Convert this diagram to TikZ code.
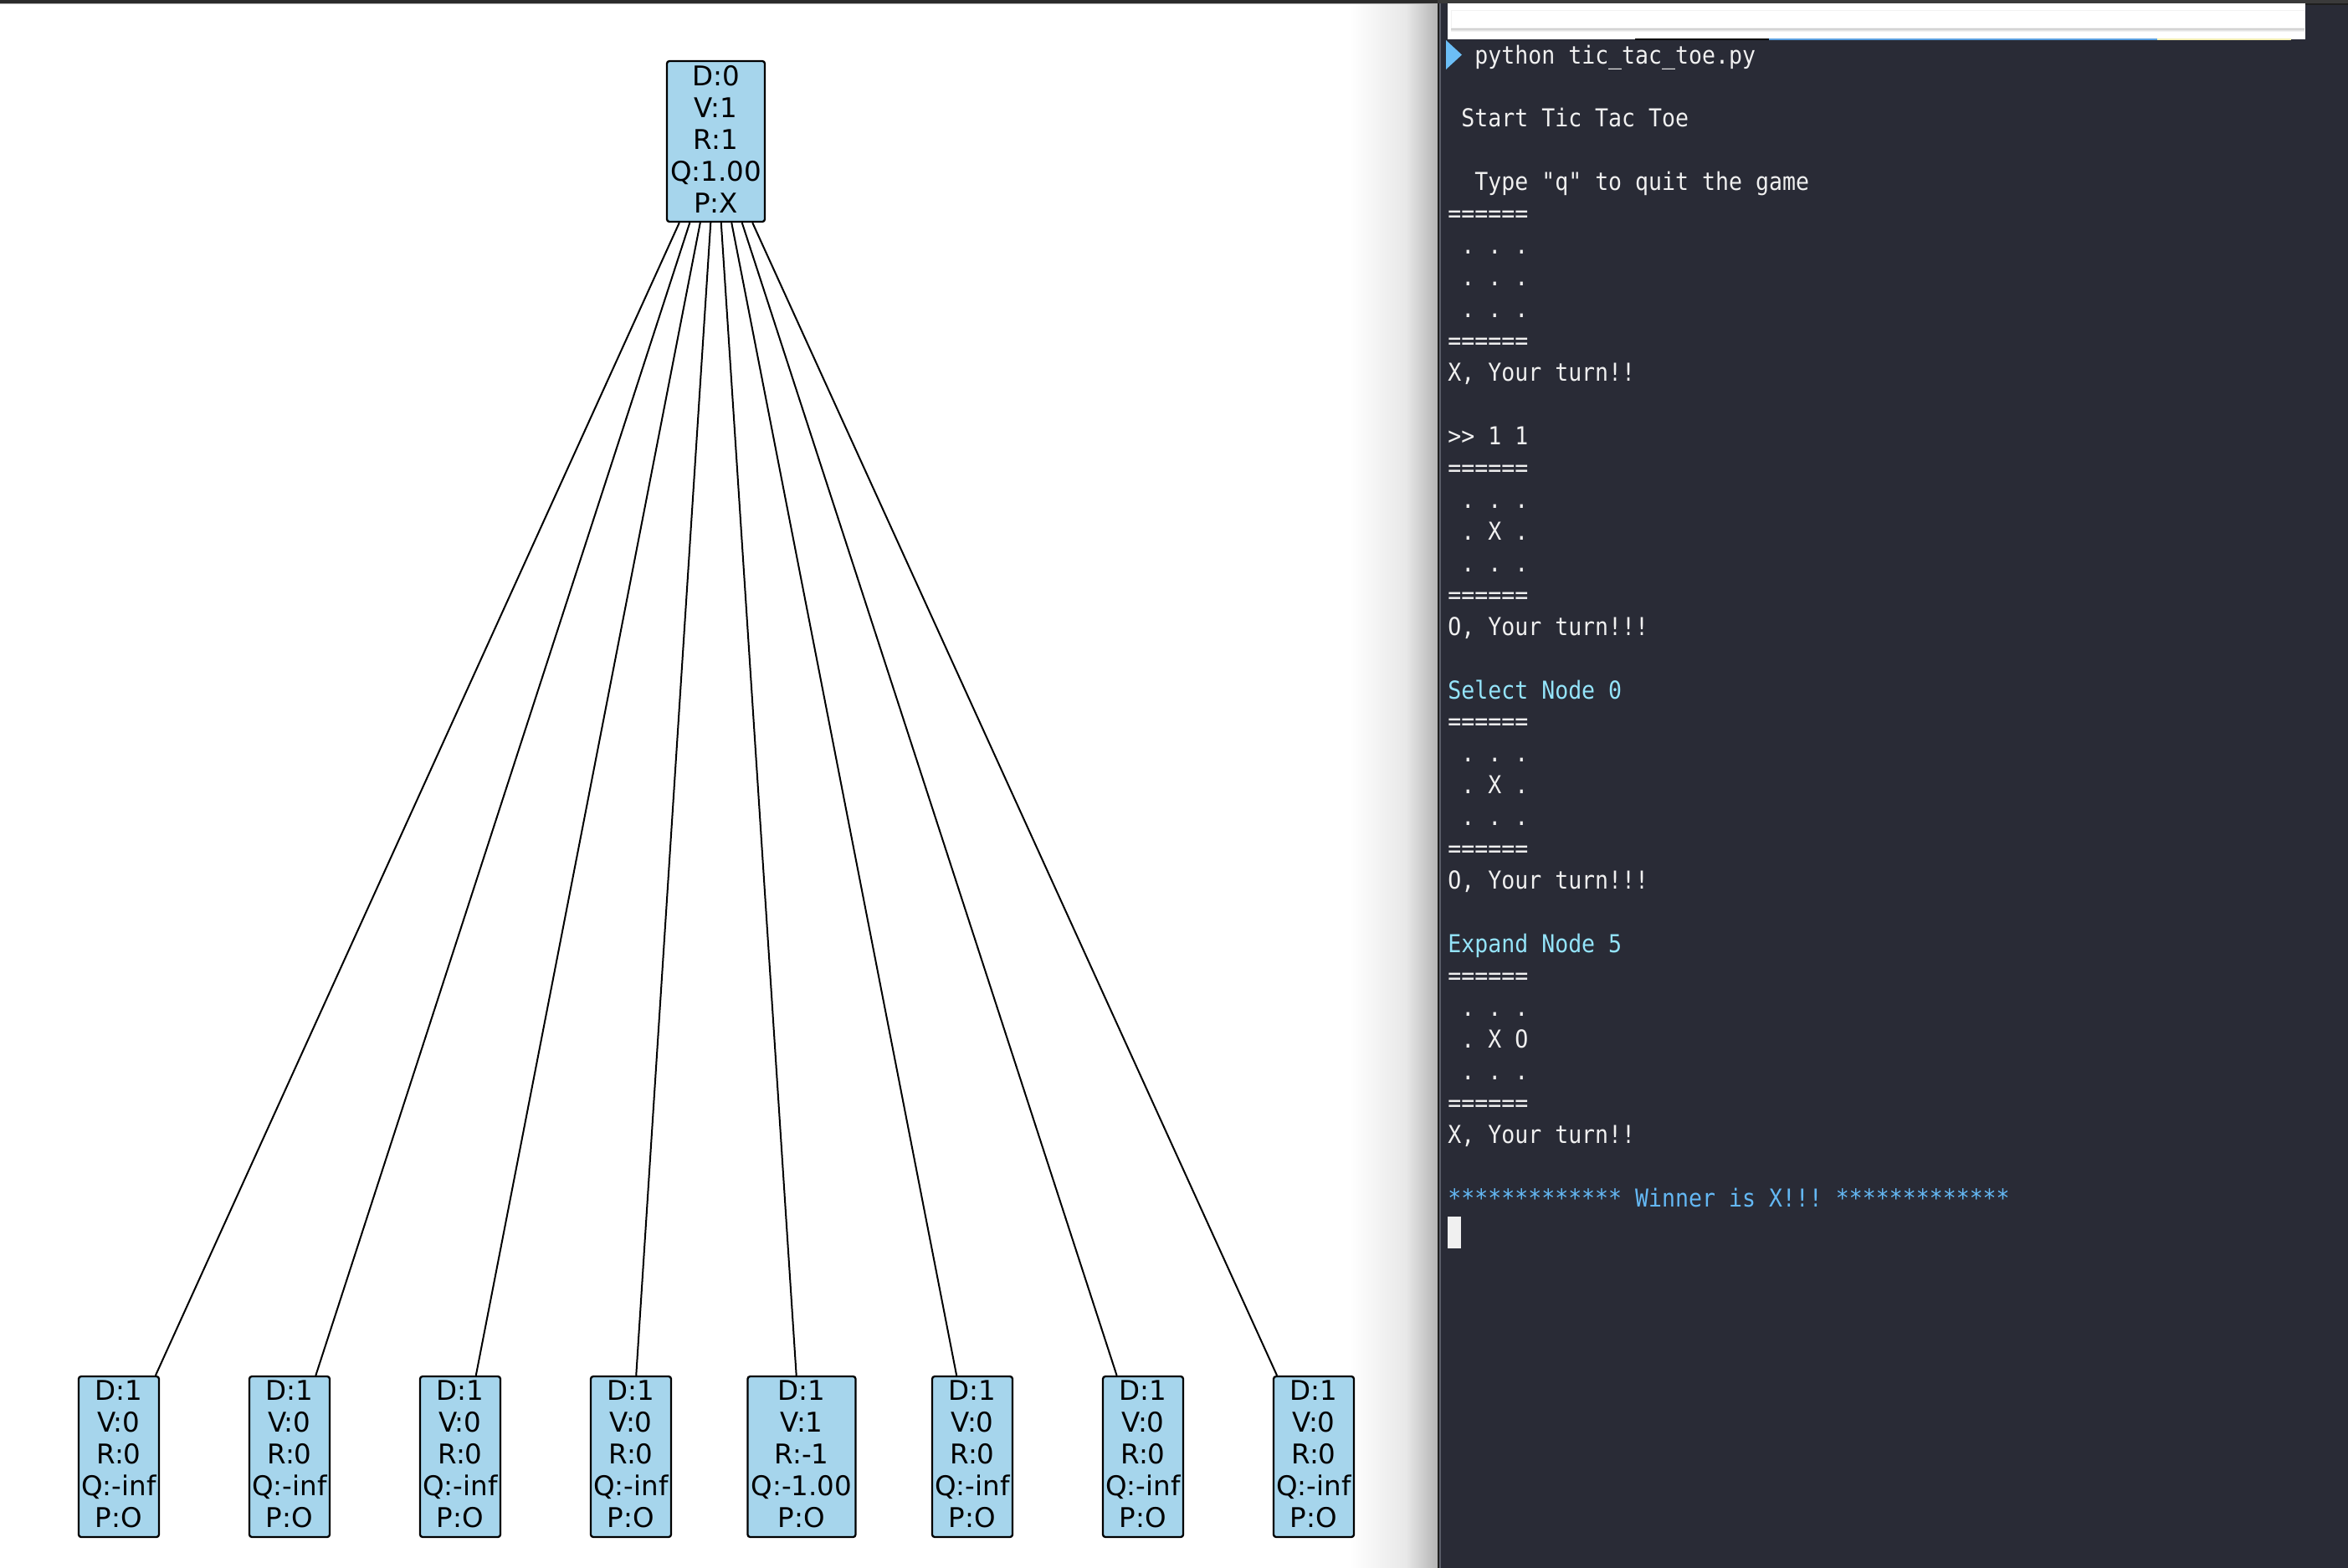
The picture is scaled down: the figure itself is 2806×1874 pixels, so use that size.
\documentclass[tikz,border=0pt]{standalone}
\usepackage{fontspec}
\setmonofont{DejaVu Sans Mono}[FakeStretch=0.9]
\newfontfamily\boxfont{DejaVu Sans}
\definecolor{nodeblue}{HTML}{A6D5EC}
\definecolor{termbg}{HTML}{292B36}
\definecolor{termfg}{HTML}{F0F0F0}
\definecolor{termcyan}{HTML}{94E4FA}
\definecolor{termblue}{HTML}{64B8F4}
\definecolor{promptblue}{HTML}{6CBEF6}
\definecolor{barleft}{HTML}{2B2B2B}
\definecolor{barright}{HTML}{3A3A3A}
\definecolor{sepdark}{HTML}{1E1E1E}
\definecolor{seplight}{HTML}{595C68}
\definecolor{shadowmid}{HTML}{E8E8E8}
\definecolor{shadowend}{HTML}{B4B4B4}
\definecolor{stripblue}{HTML}{5A9FE0}
\definecolor{stripyellow}{HTML}{F4EFB4}
\newcommand\termrow[1]{76+37.95*#1}
\tikzset{
  mctsnode/.style={draw=black, line width=1.15pt, fill=nodeblue, rounded corners=1.5pt,
    inner sep=0pt, minimum height=96pt, align=center,
    font=\boxfont\fontsize{16.25pt}{19pt}\selectfont,
    execute at end node={\rule[-3pt]{0pt}{3pt}}},
  treeedge/.style={draw=black, line width=1pt},
  term/.style={anchor=base west, inner sep=0pt, text=termfg,
    font=\ttfamily\fontsize{14.75pt}{19pt}\selectfont},
  termc/.style={term, text=termcyan},
  termb/.style={term, text=termblue}
}
\begin{document}
\begin{tikzpicture}[x=0.5pt,y=-0.5pt]
\useasboundingbox (0,0) rectangle (2806,1874);
% backgrounds
\fill[white] (0,0) rectangle (2806,1874);
\shade[left color=white, right color=shadowmid] (1612,4) rectangle (1680,1874);
\shade[left color=shadowmid, right color=shadowend] (1680,4) rectangle (1718,1874);
\fill[sepdark] (1718,0) rectangle (1720,1874);
\fill[seplight] (1720,4) rectangle (1722,1874);
\fill[termbg] (1722,4) rectangle (2806,1874);
\fill[barleft] (0,0) rectangle (1718,4);
\fill[black!30] (0,4) rectangle (1718,5);
\fill[barright] (1718,0) rectangle (2806,4);
\fill[sepdark] (2755,4) rectangle (2806,5.5);
% input box at top of terminal
\fill[white] (1730,4) rectangle (2755,47);
\shade[top color=black!25, bottom color=white] (1734,33) rectangle (2754,38);
\draw[black!5, line width=0.5pt] (1734,12) rectangle (2754,33);
\fill[black] (1954,46) rectangle (2114,48);
\fill[stripblue] (2114,46) rectangle (2578,48);
\fill[stripyellow] (2578,46) rectangle (2738,48);
% prompt
\fill[promptblue] (1728,48) -- (1747,65.5) -- (1728,83) -- cycle;

% tree nodes
\node[mctsnode, minimum width=58.5pt] (root) at (855.5,169) {D:0\\V:1\\R:1\\Q:1.00\\P:X};
\node[mctsnode, minimum width=48pt] (c1) at (142,1741) {D:1\\V:0\\R:0\\Q:-inf\\P:O};
\node[mctsnode, minimum width=48pt] (c2) at (346,1741) {D:1\\V:0\\R:0\\Q:-inf\\P:O};
\node[mctsnode, minimum width=48pt] (c3) at (550,1741) {D:1\\V:0\\R:0\\Q:-inf\\P:O};
\node[mctsnode, minimum width=48pt] (c4) at (754,1741) {D:1\\V:0\\R:0\\Q:-inf\\P:O};
\node[mctsnode, minimum width=64.5pt] (c5) at (958,1741) {D:1\\V:1\\R:-1\\Q:-1.00\\P:O};
\node[mctsnode, minimum width=48pt] (c6) at (1162,1741) {D:1\\V:0\\R:0\\Q:-inf\\P:O};
\node[mctsnode, minimum width=48pt] (c7) at (1366,1741) {D:1\\V:0\\R:0\\Q:-inf\\P:O};
\node[mctsnode, minimum width=48pt] (c8) at (1570,1741) {D:1\\V:0\\R:0\\Q:-inf\\P:O};
\foreach \c in {c1,c2,c3,c4,c5,c6,c7,c8}
  \draw[treeedge] (root) -- (\c);

% terminal text
\node[term] (t0) at (1762,{\termrow{0}}) {python tic\_tac\_toe.py};
\node[term] (t2) at (1746,{\termrow{2}}) {Start Tic Tac Toe};
\node[term] (t4) at (1762,{\termrow{4}}) {Type "q" to quit the game};
\node[term] (t5) at (1730,{\termrow{5}}) {======};
\node[term] (t6) at (1746,{\termrow{6}}) {. . .};
\node[term] (t7) at (1746,{\termrow{7}}) {. . .};
\node[term] (t8) at (1746,{\termrow{8}}) {. . .};
\node[term] (t9) at (1730,{\termrow{9}}) {======};
\node[term] (t10) at (1730,{\termrow{10}}) {X, Your turn!!};
\node[term] (t12) at (1730,{\termrow{12}}) {>> 1 1};
\node[term] (t13) at (1730,{\termrow{13}}) {======};
\node[term] (t14) at (1746,{\termrow{14}}) {. . .};
\node[term] (t15) at (1746,{\termrow{15}}) {. X .};
\node[term] (t16) at (1746,{\termrow{16}}) {. . .};
\node[term] (t17) at (1730,{\termrow{17}}) {======};
\node[term] (t18) at (1730,{\termrow{18}}) {O, Your turn!!!};
\node[termc] (t20) at (1730,{\termrow{20}}) {Select Node 0};
\node[term] (t21) at (1730,{\termrow{21}}) {======};
\node[term] (t22) at (1746,{\termrow{22}}) {. . .};
\node[term] (t23) at (1746,{\termrow{23}}) {. X .};
\node[term] (t24) at (1746,{\termrow{24}}) {. . .};
\node[term] (t25) at (1730,{\termrow{25}}) {======};
\node[term] (t26) at (1730,{\termrow{26}}) {O, Your turn!!!};
\node[termc] (t28) at (1730,{\termrow{28}}) {Expand Node 5};
\node[term] (t29) at (1730,{\termrow{29}}) {======};
\node[term] (t30) at (1746,{\termrow{30}}) {. . .};
\node[term] (t31) at (1746,{\termrow{31}}) {. X O};
\node[term] (t32) at (1746,{\termrow{32}}) {. . .};
\node[term] (t33) at (1730,{\termrow{33}}) {======};
\node[term] (t34) at (1730,{\termrow{34}}) {X, Your turn!!};
\node[termb] (t36) at (1730,{\termrow{36}}) {************* Winner is X!!! *************};
% cursor
\fill[termfg] (1730,1454) rectangle (1746,1492);
\end{tikzpicture}
\end{document}
